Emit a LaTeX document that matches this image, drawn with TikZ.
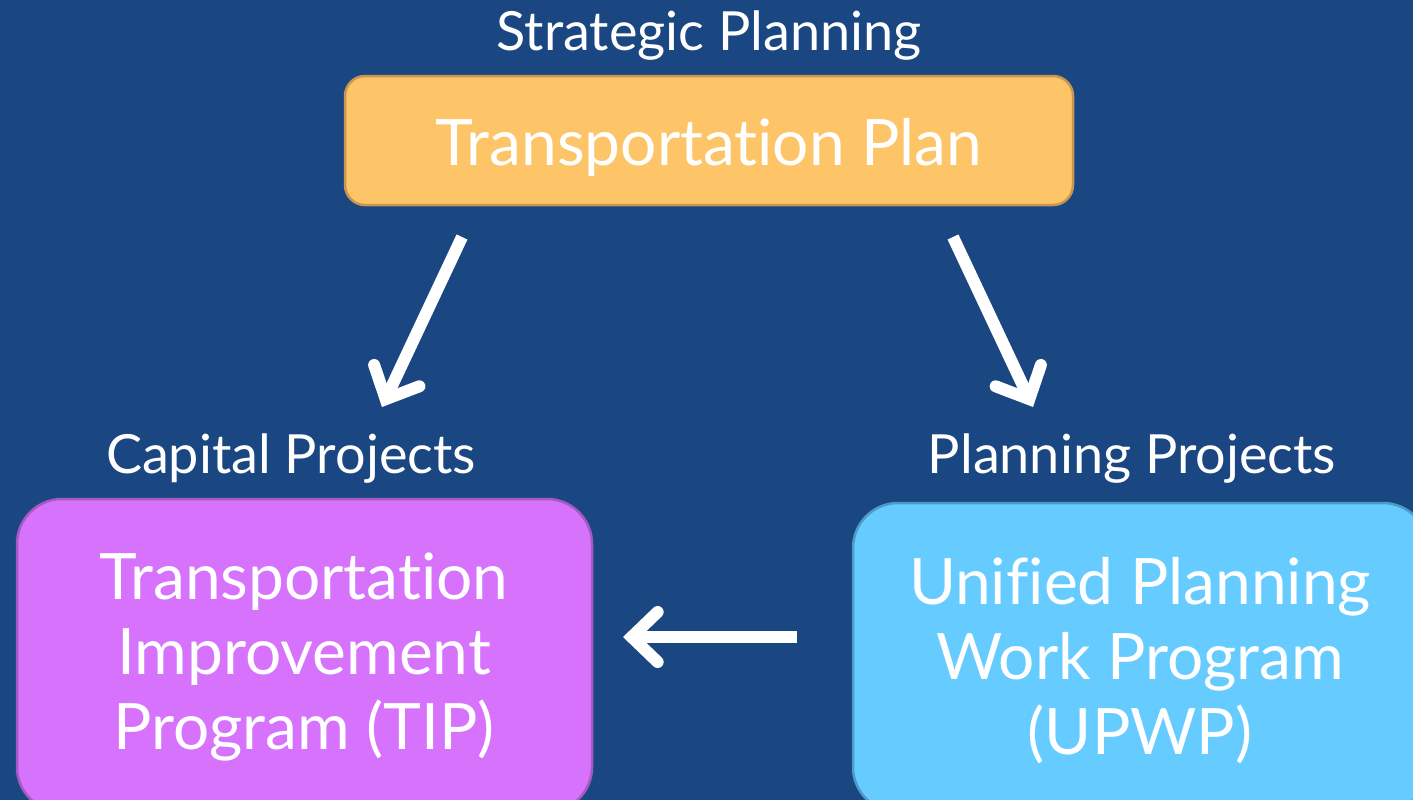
\documentclass[tikz,border=0pt]{standalone}
\usepackage{fontspec}
\setmainfont{Lato}[Ligatures={NoCommon,NoRare}]
\usetikzlibrary{arrows.meta}
\definecolor{bg}{RGB}{26,70,130}
\definecolor{plfill}{RGB}{254,197,104}
\definecolor{pldraw}{RGB}{200,150,80}
\definecolor{tipfill}{RGB}{214,114,252}
\definecolor{tipdraw}{RGB}{165,90,195}
\definecolor{upfill}{RGB}{102,204,255}
\definecolor{updraw}{RGB}{75,155,200}
\tikzset{
  box/.style={rounded corners=#1, line width=2.5pt},
  boxtext/.style={text=white, font=\fontsize{64}{75}\selectfont, align=center, inner sep=0pt},
  lbl/.style={text=white, font=\fontsize{54}{60}\selectfont, inner sep=0pt},
  arr/.style={draw=white, line width=12pt, -{Straight Barb[length=26pt, width=50pt, line cap=round, line join=miter]}},
}
\begin{document}
\begin{tikzpicture}[x=1pt,y=-1pt]
\fill[bg] (0,0) rectangle (1413,800);
\useasboundingbox (0,0) rectangle (1413,800);
\draw[box=20pt, fill=plfill, draw=pldraw] (345,76) rectangle (1073,205);
\node[boxtext] (plan) at (709,147) {Transportation Plan};
\node[lbl] (strat) at (709,36) {Strategic Planning};
\draw[box=45pt, fill=tipfill, draw=tipdraw] (17,499) rectangle (592,812);
\node[boxtext] (tip) at (304,657) {Transportation\\Improvement\\Program (TIP)};
\draw[box=45pt, fill=upfill, draw=updraw] (853,503) rectangle (1428,812);
\node[boxtext] (upwp) at (1140,661) {Unified Planning\\Work Program\\(UPWP)};
\node[lbl] (cap) at (291,459) {Capital Projects};
\node[lbl] (pp) at (1132,459) {Planning Projects};
\coordinate (a1s) at (462,237);
\coordinate (a1e) at (382,407);
\coordinate (a2s) at (953,237);
\coordinate (a2e) at (1033,407);
\coordinate (a3s) at (797,637);
\coordinate (a3e) at (623,637);
\draw[arr] (a1s) -- (a1e);
\draw[arr] (a2s) -- (a2e);
\draw[arr] (a3s) -- (a3e);
\end{tikzpicture}
\end{document}
